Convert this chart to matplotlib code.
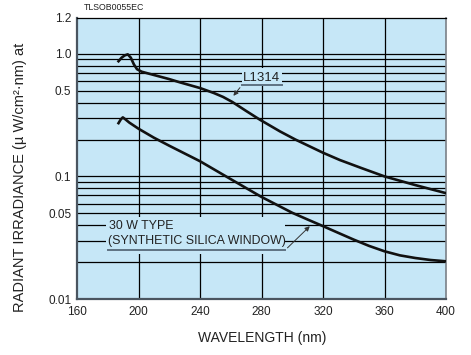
import matplotlib
matplotlib.use("Agg")
import matplotlib.pyplot as plt
from matplotlib.patches import Rectangle

plt.rcParams['font.family'] = ['Liberation Sans', 'DejaVu Sans']

# Data
wl_l1314 = [187, 189, 191, 193, 195, 197, 199, 202, 210, 220, 227, 240, 249, 255, 261, 270, 279, 292, 302, 320, 331, 345, 360, 380, 400]
irr_l1314 = [0.87, 0.93, 0.97, 0.99, 0.93, 0.82, 0.75, 0.715, 0.672, 0.622, 0.585, 0.526, 0.479, 0.445, 0.405, 0.342, 0.29, 0.233, 0.200, 0.156, 0.136, 0.117, 0.100, 0.085, 0.073]

wl_30w = [187, 188.5, 189.8, 191.5, 194, 200, 210, 220, 240, 260, 280, 300, 310, 320, 330, 340, 350, 360, 370, 380, 390, 400]
irr_30w = [0.272, 0.292, 0.303, 0.292, 0.275, 0.245, 0.207, 0.178, 0.133, 0.095, 0.068, 0.0505, 0.0445, 0.0393, 0.0346, 0.0305, 0.0271, 0.0245, 0.0227, 0.0216, 0.0208, 0.0203]

xticks = [160, 200, 240, 280, 320, 360, 400]
xtick_labels = ['160', '200', '240', '280', '320', '360', '400']
ytick_vals = [0.01, 0.05, 0.1, 0.5, 1.0, 1.96]
ytick_labels = ['0.01', '0.05', '0.1', '0.5', '1.0', '1.2']
ygrid_vals = [0.02, 0.03, 0.04, 0.05, 0.06, 0.07, 0.08, 0.09, 0.1,
              0.2, 0.3, 0.4, 0.5, 0.6, 0.7, 0.8, 0.9, 1.0]
xgrid_vals = [200, 240, 280, 320, 360]

bg = '#c6e7f7'
fig = plt.figure(figsize=(4.71, 3.55), dpi=100)
ax = fig.add_axes([77/471, 1-299/355, (446-77)/471, (299-18)/355])
ax.set_facecolor(bg)
ax.set_yscale('log')
ax.set_xlim(160, 400)
ax.set_ylim(0.01, 1.96)

for v in ygrid_vals:
    ax.axhline(v, color='black', lw=0.9, zorder=1)
for v in xgrid_vals:
    ax.axvline(v, color='black', lw=0.9, zorder=1)

ax.set_xticks(xticks)
ax.set_xticklabels(xtick_labels)
ax.set_yticks(ytick_vals)
ax.set_yticklabels(ytick_labels)
ax.yaxis.set_minor_locator(matplotlib.ticker.NullLocator())
ax.tick_params(axis='both', length=0, labelsize=8.5, colors='#222222')
ax.tick_params(axis='x', pad=5)
ax.tick_params(axis='y', pad=4)

ax.plot(wl_l1314, irr_l1314, color='#111111', lw=1.9, zorder=4, solid_joinstyle='round')
ax.plot(wl_30w, irr_30w, color='#111111', lw=1.9, zorder=4, solid_joinstyle='round')

# label background boxes
ax.add_patch(Rectangle((267.0, 0.549), 26.5, 0.77-0.549, facecolor=bg, edgecolor='none', zorder=2))
ax.add_patch(Rectangle((179.0, 0.0233), 116.0, 0.0464-0.0233, facecolor=bg, edgecolor='none', zorder=2))

lc = '#5f7282'
# L1314 annotation
ax.text(279.8, 0.64, 'L1314', fontsize=9.5, ha='center', va='center', color='#222222', zorder=5)
ax.plot([267.1, 293.1], [0.552, 0.552], color=lc, lw=1.4, zorder=5)
ax.annotate('', xy=(260.6, 0.436), xytext=(267.1, 0.552),
            arrowprops=dict(arrowstyle='-|>', color='#333333', lw=0.7, mutation_scale=7), zorder=5)

# 30 W annotation
ax.text(180.8, 0.0392, '30 W TYPE', fontsize=8.9, ha='left', va='center', color='#222222', zorder=5)
ax.text(180.2, 0.0296, '(SYNTHETIC SILICA WINDOW)', fontsize=8.9, ha='left', va='center', color='#222222', zorder=5)
ax.plot([180.2, 295.3], [0.0252, 0.0252], color=lc, lw=1.4, zorder=5)
ax.annotate('', xy=(312.7, 0.0407), xytext=(295.6, 0.0252),
            arrowprops=dict(arrowstyle='-|>', color='#333333', lw=0.7, mutation_scale=7), zorder=5)

# spines
ax.spines['left'].set_color('#4a5560')
ax.spines['left'].set_linewidth(1.6)
ax.spines['bottom'].set_color('#4a5560')
ax.spines['bottom'].set_linewidth(1.6)
ax.spines['top'].set_color('black')
ax.spines['top'].set_linewidth(0.9)
ax.spines['right'].set_color('#7a8088')
ax.spines['right'].set_linewidth(1.2)

fig.text(20/471, 1-177/355, 'RADIANT IRRADIANCE (µ W/cm²·nm) at', rotation=90,
         ha='center', va='center', fontsize=10.5, color='#222222')
fig.text(262/471, 1-338/355, 'WAVELENGTH (nm)', ha='center', va='center', fontsize=10, color='#222222')
fig.text(84/471, 1-8/355, 'TLSOB0055EC', ha='left', va='center', fontsize=6.3, color='#222222')

fig.savefig('out.png', dpi=100, facecolor='white')
